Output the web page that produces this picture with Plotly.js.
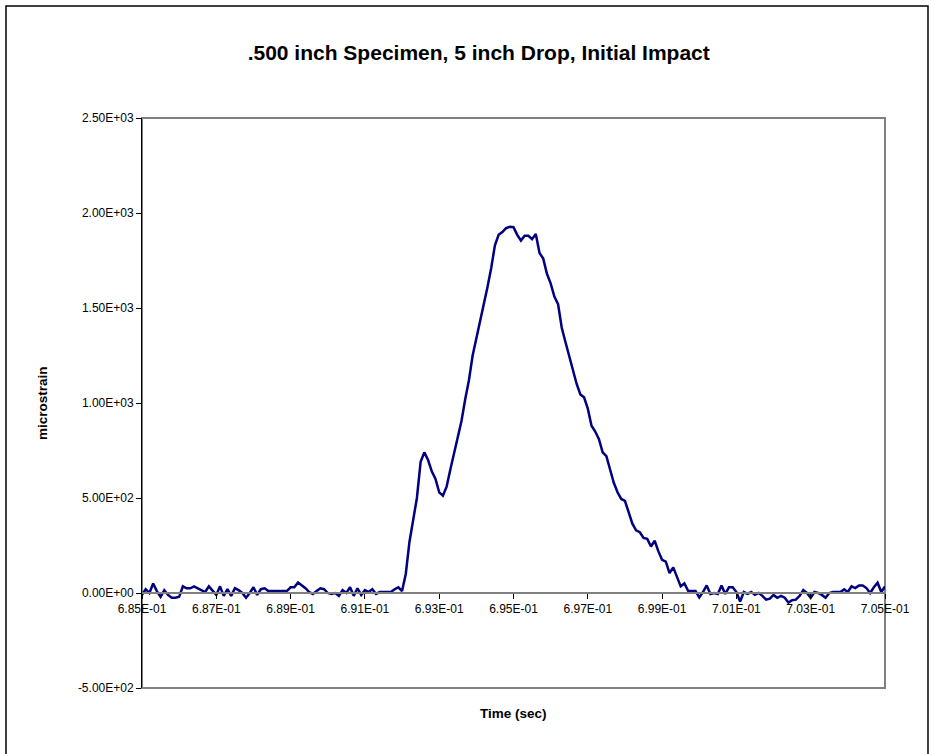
<!DOCTYPE html>
<html>
<head>
<meta charset="utf-8">
<script src="https://cdn.plot.ly/plotly-3.0.1.min.js"></script>
<style>
  html, body { margin: 0; padding: 0; background: #ffffff; }
  #chart { width: 935px; height: 754px; }
</style>
</head>
<body>
<div id="chart"></div>
<script>
// ---- data ----
const titleText = ".500 inch Specimen, 5 inch Drop, Initial Impact";
const xTitle = "Time (sec)";
const yTitle = "microstrain";

// samples start at t = 0.685 s, one every 0.0001 s
const sampleStart = 0.685;
const sampleStep = 0.0001;

const strain = [
  -10, 20, 0, 50, 10, -20, 15, -10, -25, -25,
  -20, 35, 25, 25, 35, 25, 15, 5, 35, 10,
  -10, 35, -15, 20, -15, 25, 15, 0, -25, 0,
  30, -10, 20, 25, 10, 10, 10, 10, 10, 10,
  30, 30, 55, 40, 25, 5, -5, 10, 25, 20,
  0, -5, 0, -15, 15, 0, 30, -15, 25, -10,
  15, 5, 20, -5, 5, 5, 5, 5, 20, 30,
  10, 100, 270, 395, 500, 690, 740, 700, 640, 600,
  530, 512, 560, 650, 735, 820, 905, 1020, 1120, 1250,
  1340, 1420, 1520, 1610, 1711, 1830, 1885, 1900, 1920, 1927,
  1925, 1885, 1855, 1880, 1880, 1862, 1890, 1790, 1760, 1680,
  1630, 1560, 1520, 1395, 1320, 1250, 1175, 1100, 1045, 1030,
  970, 880, 850, 810, 740, 720, 650, 580, 530, 495,
  485, 430, 365, 330, 320, 290, 285, 245, 275, 219,
  175, 165, 105, 135, 80, 35, 50, 12, 10, 10,
  -23, 5, 40, -5, 0, -5, 40, -5, 30, 30,
  5, -45, 5, -5, 5, -10, 0, -15, -35, -30,
  -10, -25, -15, -25, -50, -38, -35, -15, 15, 0,
  -25, 5, 0, -10, -25, 0, 5, 5, 5, 19,
  5, 35, 26, 40, 40, 26, 0, 30, 54, 5,
  35
];

const xTickVals = [0.685, 0.687, 0.689, 0.691, 0.693, 0.695, 0.697, 0.699, 0.701, 0.703, 0.705];
const xTickText = ["6.85E-01", "6.87E-01", "6.89E-01", "6.91E-01", "6.93E-01", "6.95E-01",
                   "6.97E-01", "6.99E-01", "7.01E-01", "7.03E-01", "7.05E-01"];
const yTickVals = [-500, 0, 500, 1000, 1500, 2000, 2500];
const yTickText = ["-5.00E+02", "0.00E+00", "5.00E+02", "1.00E+03", "1.50E+03", "2.00E+03", "2.50E+03"];

const xRange = [0.685, 0.705];
const yRange = [-500, 2500];

// ---- chart ----
const FONT = "Liberation Sans, Arial, sans-serif";

const trace = {
  type: "scatter",
  mode: "lines",
  x0: sampleStart,
  dx: sampleStep,
  y: strain,
  line: { color: "#000080", width: 2.5 },
  hoverinfo: "skip",
  showlegend: false
};

// x axis crosses at y = 0
const xAxisPos = (0 - yRange[0]) / (yRange[1] - yRange[0]);

const layout = {
  width: 935,
  height: 754,
  margin: { l: 142, r: 50, t: 118, b: 66 },
  paper_bgcolor: "#ffffff",
  plot_bgcolor: "#ffffff",
  font: { family: FONT, color: "#000000", size: 12 },
  title: {
    text: "<b>" + titleText + "</b>",
    font: { family: FONT, size: 21, color: "#000000" },
    xref: "container", x: 0.512, xanchor: "center",
    yref: "container", y: 1 - 53 / 754, yanchor: "middle"
  },
  xaxis: {
    range: xRange,
    anchor: "free",
    position: xAxisPos,
    tickmode: "array",
    tickvals: xTickVals,
    ticktext: xTickText,
    ticks: "outside",
    ticklen: 5,
    tickwidth: 1,
    tickcolor: "#000000",
    showline: true,
    linecolor: "#808080",
    linewidth: 2,
    showgrid: false,
    zeroline: false,
    tickfont: { family: FONT, size: 12, color: "#000000" },
    fixedrange: true
  },
  yaxis: {
    range: yRange,
    tickmode: "array",
    tickvals: yTickVals,
    ticktext: yTickText,
    ticks: "outside",
    ticklen: 5,
    tickwidth: 1,
    tickcolor: "#000000",
    showline: true,
    linecolor: "#000000",
    linewidth: 1,
    showgrid: false,
    zeroline: false,
    tickfont: { family: FONT, size: 12, color: "#000000" },
    fixedrange: true
  },
  shapes: [
    { type: "rect", xref: "paper", yref: "paper", x0: 0, x1: 1, y0: 0, y1: 1,
      line: { color: "#808080", width: 2 }, fillcolor: "rgba(0,0,0,0)", layer: "below" },
    { type: "rect", xref: "paper", yref: "paper",
      x0: (6 - 142) / 743, x1: (928 - 142) / 743,
      y0: (688 - 760) / 570, y1: (688 - 6) / 570,
      line: { color: "#000000", width: 1.5 }, fillcolor: "rgba(0,0,0,0)", layer: "below" }
  ],
  annotations: [
    { text: "<b>" + yTitle + "</b>", xref: "paper", yref: "paper",
      x: (42 - 142) / 743, y: 0.5, xanchor: "center", yanchor: "middle",
      textangle: -90, showarrow: false, font: { family: FONT, size: 13.5, color: "#000000" } },
    { text: "<b>" + xTitle + "</b>", xref: "paper", yref: "paper",
      x: 0.5, y: (688 - 713) / 570, xanchor: "center", yanchor: "middle",
      showarrow: false, font: { family: FONT, size: 13.5, color: "#000000" } }
  ]
};

Plotly.newPlot("chart", [trace], layout, { displayModeBar: false, staticPlot: true });
</script>
</body>
</html>
